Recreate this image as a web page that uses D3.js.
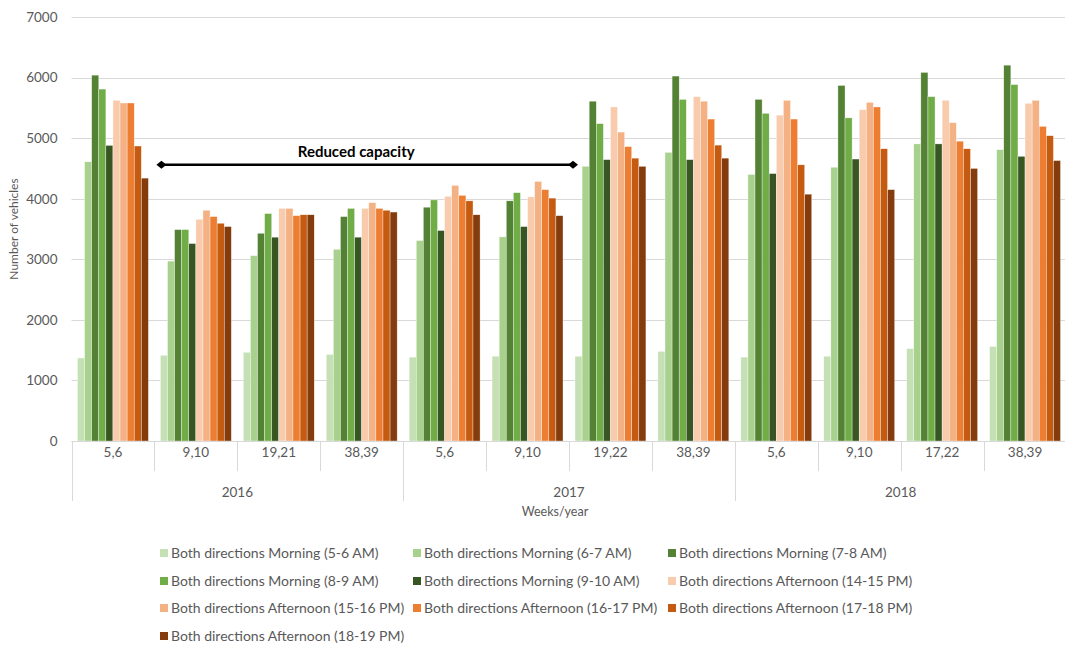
<!DOCTYPE html>
<html>
<head>
<meta charset="utf-8">
<script src="https://cdn.jsdelivr.net/npm/d3@7/dist/d3.min.js"></script>
<style>
  html, body { margin: 0; padding: 0; background: #fff; }
  svg { display: block; font-family: Lato, "Open Sans", sans-serif; }
</style>
</head>
<body>
<svg id="chart" width="1065" height="646"></svg>
<script>
// Category rows: week pairs within each year
const weeks = ["5,6", "9,10", "19,21", "38,39", "5,6", "9,10", "19,22", "38,39", "5,6", "9,10", "17,22", "38,39"];
const years = ["2016", "2016", "2016", "2016", "2017", "2017", "2017", "2017", "2018", "2018", "2018", "2018"];
const yearLabels = ["2016", "2017", "2018"];
const yTicks = [0, 1000, 2000, 3000, 4000, 5000, 6000, 7000];

const seriesNames = [
  "Both directions Morning (5-6 AM)",
  "Both directions Morning (6-7 AM)",
  "Both directions Morning (7-8 AM)",
  "Both directions Morning (8-9 AM)",
  "Both directions Morning (9-10 AM)",
  "Both directions Afternoon (14-15 PM)",
  "Both directions Afternoon (15-16 PM)",
  "Both directions Afternoon (16-17 PM)",
  "Both directions Afternoon (17-18 PM)",
  "Both directions Afternoon (18-19 PM)"
];
const seriesColors = ["#c5e0b4", "#a9d18e", "#548235", "#70ad47", "#375623",
                      "#f8cbad", "#f4b183", "#ed7d31", "#c55a11", "#843c0c"];

// Vehicle counts per hour slot, one value per week/year category
const am56   = [1370, 1415, 1465, 1430, 1385, 1400, 1400, 1480, 1385, 1400, 1525, 1560];
const am67   = [4610, 2970, 3060, 3165, 3310, 3370, 4535, 4765, 4400, 4520, 4905, 4810];
const am78   = [6040, 3490, 3430, 3705, 3860, 3965, 5610, 6025, 5640, 5870, 6085, 6205];
const am89   = [5810, 3490, 3755, 3840, 3980, 4100, 5240, 5640, 5410, 5335, 5685, 5885];
const am910  = [4880, 3260, 3365, 3365, 3475, 3540, 4645, 4645, 4415, 4655, 4905, 4700];
const pm1415 = [5625, 3660, 3840, 3840, 4040, 4030, 5515, 5685, 5380, 5470, 5625, 5575];
const pm1516 = [5580, 3810, 3840, 3935, 4220, 4285, 5100, 5610, 5625, 5590, 5255, 5625];
const pm1617 = [5580, 3705, 3720, 3840, 4055, 4150, 4860, 5315, 5315, 5515, 4950, 5195];
const pm1718 = [4870, 3595, 3735, 3810, 3965, 4010, 4670, 4885, 4560, 4825, 4825, 5040];
const pm1819 = [4340, 3540, 3735, 3780, 3735, 3720, 4535, 4670, 4075, 4150, 4500, 4630];
const seriesValues = [am56, am67, am78, am89, am910, pm1415, pm1516, pm1617, pm1718, pm1819];

// "Reduced capacity" span: from the 2016 weeks 9,10 group to the 2017 weeks 19,22 group
const reducedLabel = "Reduced capacity";
const reducedFrom = 1, reducedTo = 6, reducedLevel = 4560;

const svg = d3.select("#chart");
const plot = { left: 71.5, right: 1066.5, top: 17, bottom: 441 };
const textColor = "#595959";
const gridColor = "#d9d9d9";

const x0 = d3.scaleBand().domain(d3.range(weeks.length)).range([plot.left, plot.right]).padding(0);
const x1 = d3.scaleBand().domain(d3.range(seriesNames.length)).range([6, x0.bandwidth() - 6]).padding(0);
const y = d3.scaleLinear().domain([0, 7000]).range([plot.bottom, plot.top]);

// Horizontal gridlines
svg.append("g").selectAll("line").data(yTicks).join("line")
  .attr("x1", plot.left).attr("x2", 1065)
  .attr("y1", d => Math.round(y(d)) + 0.5).attr("y2", d => Math.round(y(d)) + 0.5)
  .attr("stroke", gridColor).attr("stroke-width", 1);

// Y axis labels
const yAxis = svg.append("g").attr("transform", `translate(${plot.left},0)`)
  .call(d3.axisLeft(y).tickValues(yTicks).tickSize(0).tickPadding(14).tickFormat(d3.format("d")));
yAxis.select(".domain").remove();
yAxis.selectAll("text").attr("fill", textColor).style("font-size", "13.5px").style("font-family", "Lato, sans-serif");

svg.append("text")
  .attr("transform", `translate(18,${(plot.top + plot.bottom) / 2}) rotate(-90)`)
  .attr("text-anchor", "middle").attr("fill", textColor).style("font-size", "12px")
  .text("Number of vehicles");

// Bars
const groups = svg.append("g").selectAll("g").data(d3.range(weeks.length)).join("g")
  .attr("transform", i => `translate(${x0(i)},0)`);
groups.selectAll("rect")
  .data(i => seriesValues.map((vals, s) => ({ s, v: vals[i] })))
  .join("rect")
  .attr("x", d => x1(d.s))
  .attr("width", x1.bandwidth())
  .attr("y", d => y(d.v))
  .attr("height", d => y(0) - y(d.v))
  .attr("fill", d => seriesColors[d.s])
  .attr("stroke", "#ffffff").attr("stroke-width", 0.5).attr("stroke-opacity", 0.7);

// Category axis: baseline, week separators, year separators and labels
const axisG = svg.append("g");
axisG.append("line").attr("x1", plot.left).attr("x2", 1065)
  .attr("y1", plot.bottom + 0.5).attr("y2", plot.bottom + 0.5).attr("stroke", gridColor);
const boundaries = d3.range(weeks.length + 1);
axisG.selectAll("line.sep").data(boundaries).join("line").attr("class", "sep")
  .attr("x1", i => Math.round(i < weeks.length ? x0(i) : plot.right) + 0.5)
  .attr("x2", i => Math.round(i < weeks.length ? x0(i) : plot.right) + 0.5)
  .attr("y1", plot.bottom)
  .attr("y2", i => (i % 4 === 0 ? 501 : 471))
  .attr("stroke", gridColor);
axisG.selectAll("text.week").data(weeks).join("text").attr("class", "week")
  .attr("x", (d, i) => x0(i) + x0.bandwidth() / 2).attr("y", 457)
  .attr("text-anchor", "middle").attr("fill", textColor).style("font-size", "13.5px")
  .text(d => d);
axisG.selectAll("text.year").data(yearLabels).join("text").attr("class", "year")
  .attr("x", d => {
    const idx = years.map((yv, i) => yv === d ? i : -1).filter(i => i >= 0);
    return (x0(idx[0]) + x0(idx[idx.length - 1]) + x0.bandwidth()) / 2;
  })
  .attr("y", 497).attr("text-anchor", "middle").attr("fill", textColor).style("font-size", "13.5px")
  .text(d => d);
svg.append("text").attr("x", 555).attr("y", 516).attr("text-anchor", "middle")
  .attr("fill", textColor).style("font-size", "12.5px").text("Weeks/year");

// Reduced capacity annotation
const ax1 = x0(reducedFrom) + 7, ax2 = x0(reducedTo) + 4, ay = y(reducedLevel);
const ann = svg.append("g");
ann.append("line").attr("x1", ax1).attr("x2", ax2).attr("y1", ay).attr("y2", ay)
  .attr("stroke", "#000").attr("stroke-width", 2.5);
ann.selectAll("path").data([ax1, ax2]).join("path")
  .attr("d", d => `M${d - 5},${ay} L${d},${ay - 4} L${d + 5},${ay} L${d},${ay + 4} Z`)
  .attr("fill", "#000");
ann.append("text").attr("x", (ax1 + ax2) / 2 - 11).attr("y", ay - 8)
  .attr("text-anchor", "middle").attr("fill", "#000")
  .style("font-size", "15px").style("font-weight", "bold").text(reducedLabel);

// Legend (three columns)
const legendCols = [160, 413, 668];
const legendRows = [553, 581, 608, 636];
const legend = svg.append("g").selectAll("g").data(seriesNames).join("g")
  .attr("transform", (d, i) => `translate(${legendCols[i % 3]},${legendRows[Math.floor(i / 3)]})`);
legend.append("rect").attr("x", 0).attr("y", -4).attr("width", 8).attr("height", 8)
  .attr("fill", (d, i) => seriesColors[i]);
legend.append("text").attr("x", 11).attr("y", 5).attr("fill", textColor)
  .style("font-size", "14px").text(d => d);
</script>
</body>
</html>
